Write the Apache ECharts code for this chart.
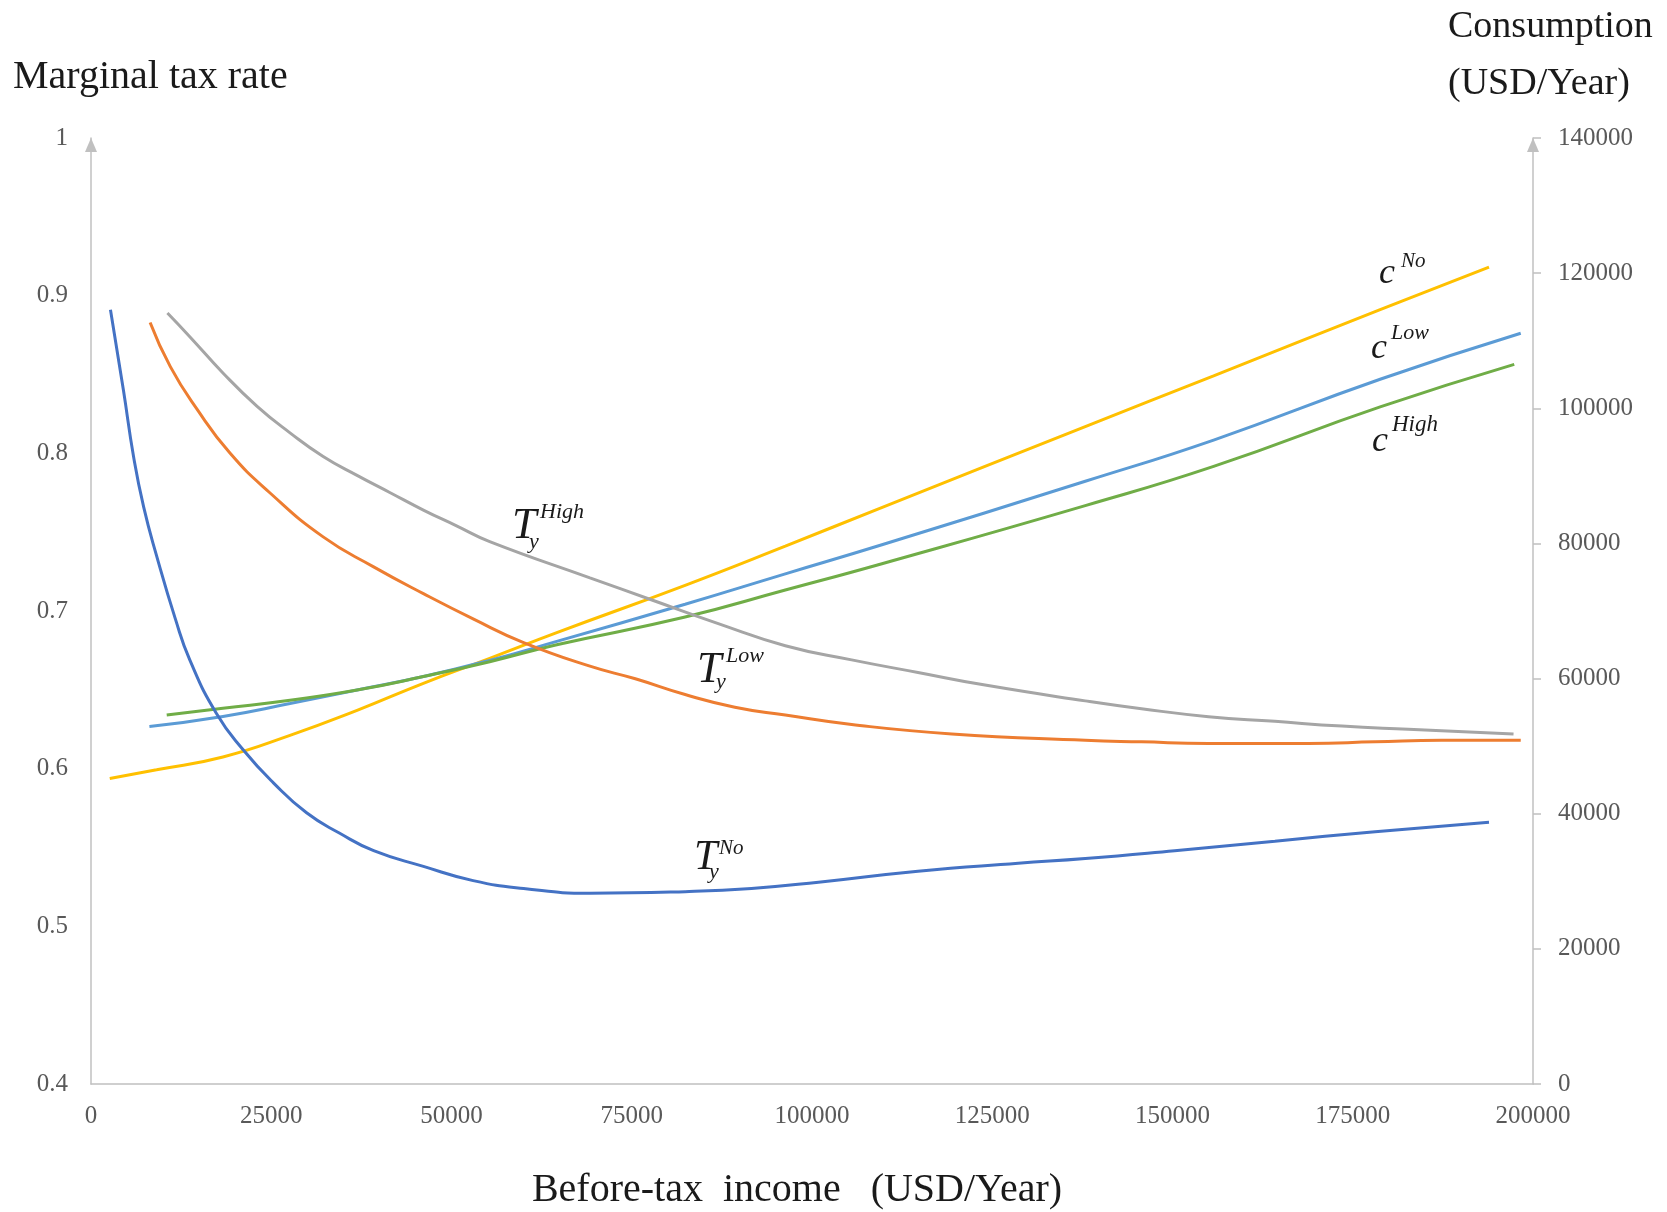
<!DOCTYPE html>
<html>
<head>
<meta charset="utf-8">
<script src="https://cdn.jsdelivr.net/npm/echarts@6/dist/echarts.min.js"></script>
<style>
html,body{margin:0;padding:0;background:#fff;}
#main{width:1667px;height:1212px;}
</style>
</head>
<body>
<div id="main"></div>
<script>
// ---- Data ----
// Before-tax income (x) vs marginal tax rate (left axis)
const tNo = [[2700,0.891],[4500,0.840],[5900,0.798],[7300,0.766],[9100,0.735],[11700,0.695],[13700,0.669],[17400,0.635],[21100,0.612],[25300,0.591],[29900,0.572],[34500,0.559],[39200,0.548],[46100,0.538],[53000,0.529],[60000,0.524],[69200,0.521],[82400,0.522],[91600,0.524],[100900,0.528],[114700,0.535],[128600,0.540],[137900,0.543],[150300,0.548],[164200,0.554],[178100,0.560],[193900,0.566]];
const tLow = [[8200,0.883],[11000,0.855],[14700,0.828],[19300,0.800],[24800,0.775],[32200,0.747],[39200,0.728],[46100,0.711],[53000,0.695],[60000,0.680],[69200,0.665],[75500,0.657],[82400,0.647],[89300,0.639],[96300,0.634],[105500,0.628],[119400,0.622],[137900,0.618],[145700,0.617],[155000,0.616],[168800,0.616],[178100,0.617],[187300,0.618],[198300,0.618]];
const tHigh = [[10600,0.889],[13700,0.874],[18300,0.851],[23000,0.830],[27600,0.813],[32200,0.798],[36900,0.786],[41500,0.775],[46100,0.764],[50700,0.754],[55300,0.744],[69200,0.721],[77800,0.707],[87000,0.692],[96300,0.678],[105500,0.669],[114700,0.661],[124000,0.653],[137900,0.643],[145700,0.638],[155000,0.633],[164200,0.630],[173500,0.627],[182700,0.625],[197300,0.622]];
// Before-tax income (x) vs consumption (right axis)
const cNo = [[2600,45200],[9100,46500],[18300,48400],[27600,51600],[36900,55300],[46100,59300],[55300,63000],[64600,66800],[82400,73800],[96300,79600],[109400,85200],[137900,97300],[155700,104800],[178800,114600],[193900,120900]];
const cLow = [[8100,52900],[18300,54400],[27600,56300],[36900,58300],[46100,60300],[55300,62700],[64600,65500],[82400,71000],[96300,75500],[109700,79800],[137900,89200],[155700,95300],[178800,104300],[198300,111100]];
const cHigh = [[10500,54600],[18300,55600],[27600,56800],[36900,58300],[46100,60300],[55300,62500],[64600,65000],[82400,69100],[96300,73100],[109700,77000],[137900,85600],[155700,91400],[178800,100200],[197400,106500]];

const xTicks = {min:0, max:200000, interval:25000};
const leftTicks = {min:0.4, max:1, interval:0.1};
const rightTicks = {min:0, max:140000, interval:20000};

// ---- Chart ----
const chart = echarts.init(document.getElementById('main'), null, {renderer:'canvas'});
const serif = "'Liberation Serif','Times New Roman',serif";
const axisGrey = '#c0c0c0';
const labelGrey = '#595959';
const plain = v => String(v);

function line(name, data, color, yIdx){
  return {name, type:'line', data, yAxisIndex:yIdx, smooth:0.5, showSymbol:false, symbol:'none',
    lineStyle:{color, width:3}, itemStyle:{color}, animation:false};
}

function txt(x, y, text, size, italic, align){
  return {type:'text', x, y, silent:true,
    style:{text, font:(italic?'italic ':'')+size+'px '+serif, fill:'#1a1a1a',
      align:align||'left', verticalAlign:'middle'}};
}

const option = {
  backgroundColor:'#fff',
  animation:false,
  grid:{left:91, right:134, top:138, bottom:128, containLabel:false},
  xAxis:{type:'value', min:xTicks.min, max:xTicks.max, interval:xTicks.interval,
    axisLine:{lineStyle:{color:axisGrey, width:1.5}},
    axisTick:{show:false}, splitLine:{show:false},
    axisLabel:{color:labelGrey, fontFamily:serif, fontSize:25, margin:20, formatter:plain}},
  yAxis:[
    {type:'value', position:'left', min:leftTicks.min, max:leftTicks.max, interval:leftTicks.interval,
     axisLine:{show:true, lineStyle:{color:axisGrey, width:1.5}, symbol:['none','triangle'], symbolSize:[12,14], symbolOffset:[0,-7]},
     axisTick:{show:false}, splitLine:{show:false},
     axisLabel:{color:labelGrey, fontFamily:serif, fontSize:25, margin:23}},
    {type:'value', position:'right', min:rightTicks.min, max:rightTicks.max, interval:rightTicks.interval,
     axisLine:{show:true, lineStyle:{color:axisGrey, width:1.5}, symbol:['none','triangle'], symbolSize:[12,14], symbolOffset:[0,-7]},
     axisTick:{show:true, length:8, inside:false, lineStyle:{color:axisGrey, width:1.5}}, splitLine:{show:false},
     axisLabel:{color:labelGrey, fontFamily:serif, fontSize:25, margin:25, formatter:plain}}
  ],
  series:[
    line('cNo', cNo, '#FFC000', 1),
    line('cLow', cLow, '#5B9BD5', 1),
    line('cHigh', cHigh, '#70AD47', 1),
    line('tHigh', tHigh, '#A5A5A5', 0),
    line('tLow', tLow, '#ED7D31', 0),
    line('tNo', tNo, '#4472C4', 0)
  ],
  graphic:[
    txt(13, 77, 'Marginal tax rate', 40, false),
    txt(1448, 27, 'Consumption', 38, false),
    txt(1448, 84, '(USD/Year)', 38, false),
    txt(797, 1190, 'Before-tax  income   (USD/Year)', 40, false, 'center'),
    // T_y^High
    txt(512, 526, 'T', 44, true), txt(540, 512, 'High', 22, true), txt(529, 542, 'y', 22, true),
    // T_y^Low
    txt(697, 670, 'T', 44, true), txt(726, 656, 'Low', 22, true), txt(716, 682, 'y', 22, true),
    // T_y^No
    txt(694, 858, 'T', 42, true), txt(719, 848, 'No', 21, true), txt(709, 872, 'y', 22, true),
    // c^No, c^Low, c^High
    txt(1379, 274, 'c', 36, true), txt(1401, 261, 'No', 21, true),
    txt(1371, 349, 'c', 36, true), txt(1391, 333, 'Low', 22, true),
    txt(1372, 442, 'c', 36, true), txt(1392, 425, 'High', 23, true)
  ]
};
chart.setOption(option);
</script>
</body>
</html>
